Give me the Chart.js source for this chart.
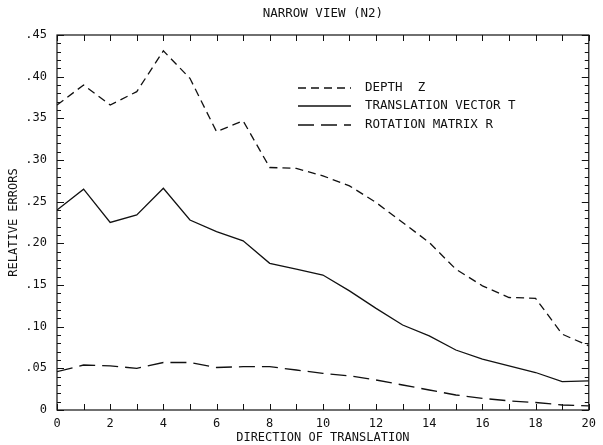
<!DOCTYPE html>
<html>
<head>
<meta charset="utf-8">
<script src="https://cdn.jsdelivr.net/npm/chart.js@4/dist/chart.umd.min.js"></script>
<style>
  html, body { margin: 0; padding: 0; background: #fff; }
  #wrap { width: 603px; height: 445px; }
</style>
</head>
<body>
<div id="wrap"><canvas id="chart"></canvas></div>
<script>
// direction of translation (x) and the three error curves
const directions = [0, 1, 2, 3, 4, 5, 6, 7, 8, 9, 10, 11, 12, 13, 14, 15, 16, 17, 18, 19, 20];
const depthZ = [0.366, 0.390, 0.366, 0.382, 0.431, 0.398, 0.334, 0.347, 0.291, 0.290, 0.281, 0.269,
                0.249, 0.225, 0.201, 0.169, 0.149, 0.135, 0.134, 0.091, 0.077];
const translationT = [0.240, 0.265, 0.225, 0.234, 0.266, 0.228, 0.214, 0.203, 0.176, 0.169, 0.162, 0.143,
                      0.122, 0.102, 0.089, 0.072, 0.061, 0.053, 0.045, 0.034, 0.035];
const rotationR = [0.046, 0.054, 0.053, 0.050, 0.057, 0.057, 0.051, 0.052, 0.052, 0.048, 0.044, 0.041,
                   0.036, 0.030, 0.024, 0.018, 0.014, 0.011, 0.009, 0.006, 0.005];
const seriesNames = ['DEPTH  Z', 'TRANSLATION VECTOR T', 'ROTATION MATRIX R'];
const chartTitle = 'NARROW VIEW (N2)';

const FONT = '"DejaVu Sans Mono", monospace';
const INK = '#111';

const toPoints = (ys) => ys.map((y, i) => ({ x: directions[i], y: y }));

// frame, inward tick marks and the title centred over the plot
const frameTicks = {
    id: 'frameTicks',
    afterDraw(chart) {
        const { ctx, chartArea: a, scales: { x, y } } = chart;
        ctx.save();
        ctx.strokeStyle = INK;
        ctx.lineWidth = 1.2;
        ctx.strokeRect(a.left, a.top, a.right - a.left, a.bottom - a.top);
        ctx.lineWidth = 1;
        ctx.beginPath();
        for (let i = x.min; i <= x.max; i++) {
            const px = Math.round(x.getPixelForValue(i)) + 0.5;
            ctx.moveTo(px, a.bottom); ctx.lineTo(px, a.bottom - 6);
            ctx.moveTo(px, a.top); ctx.lineTo(px, a.top + 6);
        }
        for (let k = 0; k <= 45; k++) {
            const py = Math.round(y.getPixelForValue(k / 100)) + 0.5;
            const len = k % 5 === 0 ? 7 : 4;
            ctx.moveTo(a.left, py); ctx.lineTo(a.left + len, py);
            ctx.moveTo(a.right, py); ctx.lineTo(a.right - len, py);
        }
        ctx.stroke();

        ctx.font = '12.5px ' + FONT;
        ctx.fillStyle = INK;
        ctx.textAlign = 'center';
        ctx.textBaseline = 'middle';
        ctx.fillText(chartTitle, (a.left + a.right) / 2, 14);
        ctx.restore();
    }
};

// legend sitting inside the plot
const innerLegend = {
    id: 'innerLegend',
    afterDraw(chart) {
        const ctx = chart.ctx;
        const rows = [88, 106, 125];
        ctx.save();
        ctx.font = '12.5px ' + FONT;
        ctx.fillStyle = INK;
        ctx.textBaseline = 'middle';
        chart.data.datasets.forEach((ds, i) => {
            ctx.strokeStyle = INK;
            ctx.lineWidth = ds.borderWidth;
            ctx.setLineDash(ds.borderDash || []);
            ctx.beginPath();
            ctx.moveTo(298, rows[i]);
            ctx.lineTo(351, rows[i]);
            ctx.stroke();
            ctx.setLineDash([]);
            ctx.fillText(ds.label, 365, rows[i]);
        });
        ctx.restore();
    }
};

new Chart(document.getElementById('chart'), {
    type: 'line',
    data: {
        datasets: [
            { label: seriesNames[0], data: toPoints(depthZ), borderDash: [8, 5], borderWidth: 1.3 },
            { label: seriesNames[1], data: toPoints(translationT), borderDash: [], borderWidth: 1.3 },
            { label: seriesNames[2], data: toPoints(rotationR), borderDash: [16, 7], borderWidth: 1.3 }
        ]
    },
    options: {
        responsive: true,
        maintainAspectRatio: false,
        animation: false,
        layout: { padding: { left: 0, right: 9, top: 35, bottom: 0 } },
        elements: {
            line: { borderColor: INK, tension: 0, fill: false },
            point: { radius: 0 }
        },
        plugins: {
            legend: { display: false },
            tooltip: { enabled: false },
            title: { display: false }
        },
        scales: {
            x: {
                type: 'linear',
                min: 0,
                max: 20,
                afterFit: (s) => { s.height = 35; },
                grid: { display: false, drawTicks: false, tickLength: 0 },
                border: { display: false },
                ticks: {
                    stepSize: 1,
                    autoSkip: false,
                    maxRotation: 0,
                    padding: 7,
                    color: INK,
                    font: { family: FONT, size: 12 },
                    callback: (v) => (v % 2 === 0 ? String(v) : '')
                },
                title: {
                    display: true,
                    text: 'DIRECTION OF TRANSLATION',
                    color: INK,
                    font: { family: FONT, size: 12 },
                    padding: { top: 0, bottom: 0 }
                }
            },
            y: {
                min: 0,
                max: 0.45,
                afterFit: (s) => { s.width = 57; },
                grid: { display: false, drawTicks: false, tickLength: 0 },
                border: { display: false },
                ticks: {
                    stepSize: 0.05,
                    padding: 10,
                    color: INK,
                    font: { family: FONT, size: 12 },
                    callback: (v) => {
                        const n = Math.round(v * 100);
                        return n === 0 ? '0' : '.' + String(n).padStart(2, '0');
                    }
                },
                title: {
                    display: true,
                    text: 'RELATIVE ERRORS',
                    color: INK,
                    font: { family: FONT, size: 12 },
                    padding: { top: 7, bottom: 0 }
                }
            }
        }
    },
    plugins: [frameTicks, innerLegend]
});
</script>
</body>
</html>
